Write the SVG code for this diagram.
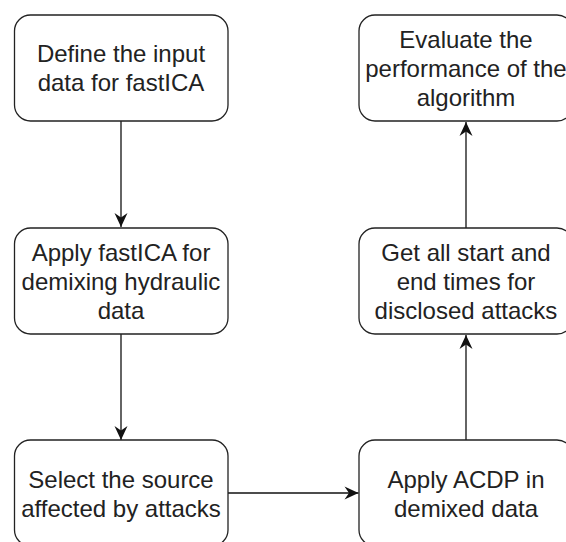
<svg xmlns="http://www.w3.org/2000/svg" width="566" height="542" viewBox="0 0 566 542">
<defs>
<style>
.box{fill:#fff;stroke:#222;stroke-width:1.3}
.lbl{font-family:"Liberation Sans",Arial,sans-serif;font-size:24px;fill:#222;text-anchor:middle}
.edge{fill:none;stroke:#111;stroke-width:1.3}
</style>
<marker id="arr" markerUnits="userSpaceOnUse" markerWidth="16" markerHeight="16" viewBox="-15 -8 16 16" refX="0" refY="0" orient="auto">
<path d="M0,0 L-14,-6.5 L-9.5,0 L-14,6.5 Z" fill="#111"/>
</marker>
</defs>
<rect width="566" height="542" fill="#fff"/>
<g id="connectors">
<line class="edge" x1="121" y1="121" x2="121" y2="227" marker-end="url(#arr)"/>
<line class="edge" x1="121" y1="334" x2="121" y2="440" marker-end="url(#arr)"/>
<line class="edge" x1="228" y1="493" x2="358.5" y2="493" marker-end="url(#arr)"/>
<line class="edge" x1="466" y1="440" x2="466" y2="335" marker-end="url(#arr)"/>
<line class="edge" x1="466" y1="228" x2="466" y2="122" marker-end="url(#arr)"/>
</g>
<g id="n1">
<rect class="box" x="14.5" y="15" width="213.5" height="106" rx="16" ry="16"/>
<text class="lbl" x="121" y="62">Define the input</text>
<text class="lbl" x="121" y="91">data for fastICA</text>
</g>
<g id="n2">
<rect class="box" x="14.5" y="228" width="213.5" height="106" rx="16" ry="16"/>
<text class="lbl" x="121" y="261">Apply fastICA for</text>
<text class="lbl" x="121" y="290">demixing hydraulic</text>
<text class="lbl" x="121" y="319">data</text>
</g>
<g id="n3">
<rect class="box" x="14.5" y="440" width="213.5" height="106" rx="16" ry="16"/>
<text class="lbl" x="121" y="488">Select the source</text>
<text class="lbl" x="121" y="517">affected by attacks</text>
</g>
<g id="n4">
<rect class="box" x="359" y="440" width="214" height="106" rx="16" ry="16"/>
<text class="lbl" x="466" y="488">Apply ACDP in</text>
<text class="lbl" x="466" y="517">demixed data</text>
</g>
<g id="n5">
<rect class="box" x="359" y="228" width="214" height="106" rx="16" ry="16"/>
<text class="lbl" x="466" y="261">Get all start and</text>
<text class="lbl" x="466" y="290">end times for</text>
<text class="lbl" x="466" y="319">disclosed attacks</text>
</g>
<g id="n6">
<rect class="box" x="359" y="15" width="214" height="106" rx="16" ry="16"/>
<text class="lbl" x="466" y="48">Evaluate the</text>
<text class="lbl" x="466" y="77">performance of the</text>
<text class="lbl" x="466" y="106">algorithm</text>
</g>
</svg>
